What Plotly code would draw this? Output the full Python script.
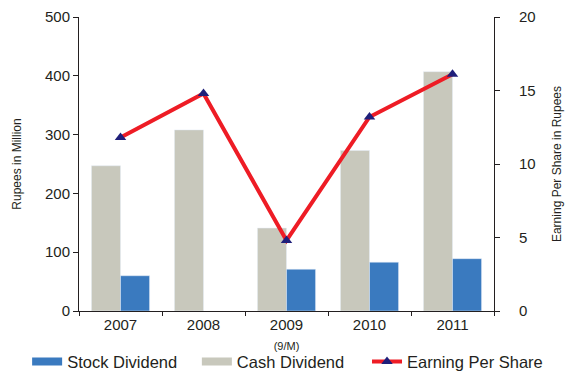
import plotly.graph_objects as go

years = ["2007", "2008", "2009", "2010", "2011"]
year_labels = ["2007", "2008", "2009<br><span style='font-size:11px'>(9/M)</span>", "2010", "2011"]
cash_dividend = [247, 308, 141, 273, 407]
stock_dividend = [60, None, 71, 83, 89]
eps = [11.8, 14.8, 4.8, 13.2, 16.1]

CASH = "#c8c8bc"
STOCK = "#3a7abf"
RED = "#ee1c25"
NAVY = "#1f1f7a"
INK = "#231f20"
FONT = "Liberation Sans, Arial, sans-serif"

fig = go.Figure()

fig.add_trace(go.Bar(x=years, y=cash_dividend, marker_color=CASH,
                     name="Cash Dividend", showlegend=False))
fig.add_trace(go.Bar(x=years, y=stock_dividend, marker_color=STOCK,
                     name="Stock Dividend", showlegend=False))
fig.add_trace(go.Scatter(x=years, y=eps, yaxis="y2", mode="lines+markers",
                         line=dict(color=RED, width=4),
                         marker=dict(symbol="triangle-up", size=10, color=NAVY),
                         name="Earning Per Share", showlegend=False))

# legend entries drawn as wide swatches, one legend box each
fig.add_trace(go.Scatter(x=[None], y=[None], mode="lines", legend="legend",
                         line=dict(color=STOCK, width=8), name="Stock Dividend"))
fig.add_trace(go.Scatter(x=[None], y=[None], mode="lines", legend="legend2",
                         line=dict(color=CASH, width=8), name="Cash Dividend"))
fig.add_trace(go.Scatter(x=[None], y=[None], mode="lines+markers", yaxis="y2",
                         legend="legend3",
                         line=dict(color=RED, width=4),
                         marker=dict(symbol="triangle-up", size=10, color=NAVY),
                         name="Earning Per Share"))

legend_style = dict(orientation="h", xanchor="left", y=-0.173, yanchor="middle",
                    font=dict(size=16.5, color=INK), itemwidth=30,
                    bgcolor="rgba(0,0,0,0)")

fig.update_layout(
    width=565, height=372,
    margin=dict(l=79, r=71, t=17, b=61, autoexpand=False),
    plot_bgcolor="white", paper_bgcolor="white",
    font=dict(family=FONT, color=INK, size=15),
    barmode="group", bargap=0.3, bargroupgap=0,
    xaxis=dict(
        type="category", tickvals=years, ticktext=year_labels,
        showline=True, linecolor=INK, linewidth=1,
        ticks="outside", tickson="boundaries", ticklen=4, tickcolor=INK,
        showgrid=False, zeroline=False, range=[-0.5, 4.5],
        tickfont=dict(size=15),
    ),
    yaxis=dict(
        range=[0, 500], tickvals=[0, 100, 200, 300, 400, 500],
        showline=True, linecolor=INK, linewidth=1,
        ticks="outside", ticklen=5, tickcolor=INK,
        showgrid=False, zeroline=False,
        title=dict(text="Rupees in Million", font=dict(size=12), standoff=20),
        tickfont=dict(size=15),
    ),
    yaxis2=dict(
        range=[0, 20], tickvals=[0, 5, 10, 15, 20],
        overlaying="y", side="right",
        showline=True, linecolor=INK, linewidth=1,
        ticks="outside", ticklen=5, tickcolor=INK, ticklabelstandoff=16,
        showgrid=False, zeroline=False,
        title=dict(text="Earning Per Share in Rupees", font=dict(size=12), standoff=17),
        tickfont=dict(size=15),
    ),
    legend=dict(x=-0.125, **legend_style),
    legend2=dict(x=0.284, **legend_style),
    legend3=dict(x=0.694, **legend_style),
)

fig.write_html("out.html")
